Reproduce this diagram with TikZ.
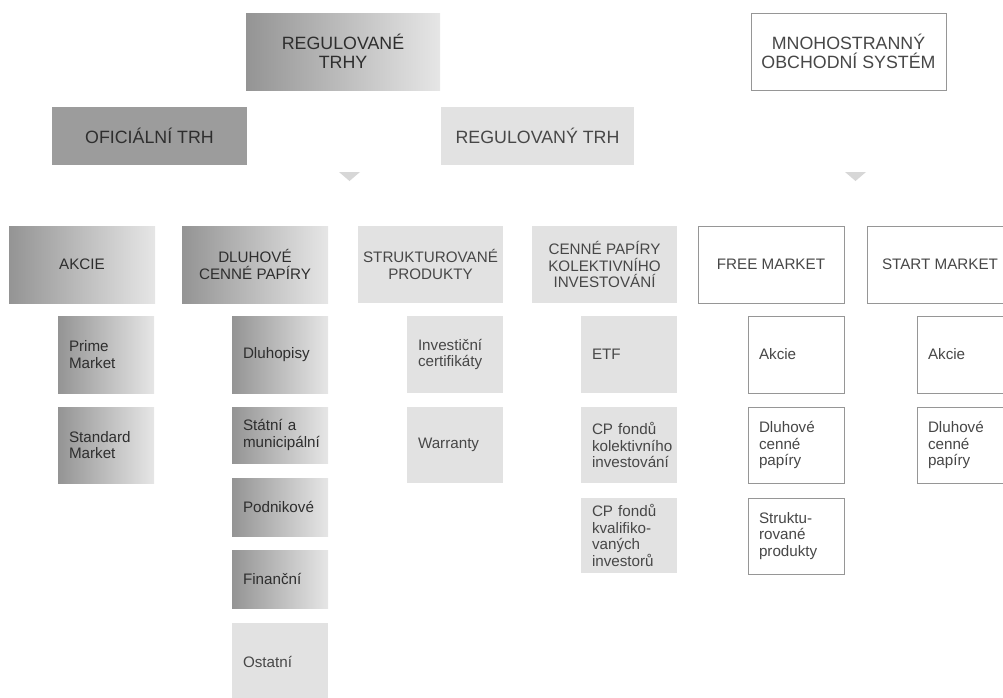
\documentclass[tikz,border=0pt]{standalone}
\usepackage{fontspec}
\setmainfont{Liberation Sans}
\definecolor{gradDark}{RGB}{148,148,148}
\definecolor{gradLight}{RGB}{230,230,230}
\definecolor{solidDark}{RGB}{156,156,156}
\definecolor{solidLight}{RGB}{226,226,226}
\definecolor{frameGray}{RGB}{150,150,150}
\definecolor{arrowGray}{RGB}{215,215,215}

\begin{document}
\begin{tikzpicture}[
		x=1pt, y=-1pt,
		box/.style={
			rectangle, anchor=north west, outer sep=0pt, inner sep=2pt, align=center
		},
		bigtext/.style={font=\fontsize{17.8}{19}\selectfont},
		midtext/.style={font=\fontsize{15.2}{16.6}\selectfont},
		leaf/.style={
			midtext, align=left, inner xsep=11pt, text width=74pt, minimum width=96pt
		},
		gradbox/.style={
			box, left color=gradDark, right color=gradLight, text=black!82
		},
		darkbox/.style={box, fill=solidDark, text=black!82},
		lightbox/.style={box, fill=solidLight, text=black!72},
		whitebox/.style={box, draw=frameGray, line width=0.9pt, fill=white, text=black!72}
		]
		
		\useasboundingbox (0,0) rectangle (1003,697);
		\clip (0,0) rectangle (1003,697);
		
		% fila superior
		\node[gradbox, bigtext, minimum width=194pt, minimum height=77pt] (regtrhy) at (246,13) {REGULOVANÉ\\TRHY};
		\node[whitebox, bigtext, minimum width=195pt, minimum height=77pt] (mts) at (751,13) {MNOHOSTRANNÝ\\OBCHODNÍ SYSTÉM};
		\node[darkbox, bigtext, minimum width=195pt, minimum height=58pt] (oftrh) at (52,107) {OFICIÁLNÍ TRH};
		\node[lightbox, bigtext, minimum width=193pt, minimum height=58pt] (regtrh) at (441,107) {REGULOVANÝ TRH};
		
		% flechas
		\fill[arrowGray] (339,172) -- (360,172) -- (349.5,181) -- cycle;
		\fill[arrowGray] (845,172) -- (866,172) -- (855.5,181) -- cycle;
		
		% segmentos
		\node[gradbox, midtext, minimum width=146pt, minimum height=77pt] (akcie) at (9,226) {AKCIE};
		\node[gradbox, midtext, minimum width=146pt, minimum height=77pt] (dluhove) at (182,226) {DLUHOVÉ\\CENNÉ PAPÍRY};
		\node[lightbox, midtext, minimum width=145pt, minimum height=77pt] (strukt) at (358,226) {STRUKTUROVANÉ\\PRODUKTY};
		\node[lightbox, midtext, minimum width=145pt, minimum height=77pt] (kolekt) at (532,226) {CENNÉ PAPÍRY\\KOLEKTIVNÍHO\\INVESTOVÁNÍ};
		\node[whitebox, midtext, minimum width=146pt, minimum height=77pt] (free) at (698,226) {FREE MARKET};
		\node[whitebox, midtext, minimum width=146pt, minimum height=77pt] (start) at (867,226) {START MARKET};
		
		% hojas
		\node[gradbox, leaf, minimum height=77pt] (prime) at (58,316) {Prime\\Market};
		\node[gradbox, leaf, minimum height=76pt] (standard) at (58,407) {Standard\\Market};
		
		\node[gradbox, leaf, minimum height=77pt] (dluhopisy) at (232,316) {Dluhopisy};
		\node[gradbox, leaf, minimum height=56pt] (statni) at (232,407) {Státní a\\municipální};
		\node[gradbox, leaf, minimum height=58pt] (podnikove) at (232,478) {Podnikové};
		\node[gradbox, leaf, minimum height=58pt] (financni) at (232,550) {Finanční};
		\node[lightbox, leaf, minimum height=77pt] (ostatni) at (232,623) {Ostatní};
		
		\node[lightbox, leaf, minimum height=77pt] (invest) at (407,316) {Investiční\\certifikáty};
		\node[lightbox, leaf, minimum height=76pt] (warranty) at (407,407) {Warranty};
		
		\node[lightbox, leaf, minimum height=77pt, inner xsep=8pt] (etf) at (581,316) {ETF};
		\node[lightbox, leaf, minimum height=76pt, inner xsep=7pt] (cpkol) at (581,407) {CP fondů\\kolektivního\\investování};
		\node[lightbox, leaf, minimum height=75pt, inner xsep=8pt] (cpkval) at (581,498) {CP fondů\\kvalifiko-\\vaných\\investorů};
		
		\node[whitebox, leaf, minimum height=77pt] (fakcie) at (748,316) {Akcie};
		\node[whitebox, leaf, minimum height=76pt] (fdluh) at (748,407) {Dluhové\\cenné\\papíry};
		\node[whitebox, leaf, minimum height=76pt] (fstrukt) at (748,498) {Struktu-\\rované\\produkty};
		
		\node[whitebox, leaf, minimum height=77pt] (sakcie) at (917,316) {Akcie};
		\node[whitebox, leaf, minimum height=76pt] (sdluh) at (917,407) {Dluhové\\cenné\\papíry};
	\end{tikzpicture}
\end{document}
